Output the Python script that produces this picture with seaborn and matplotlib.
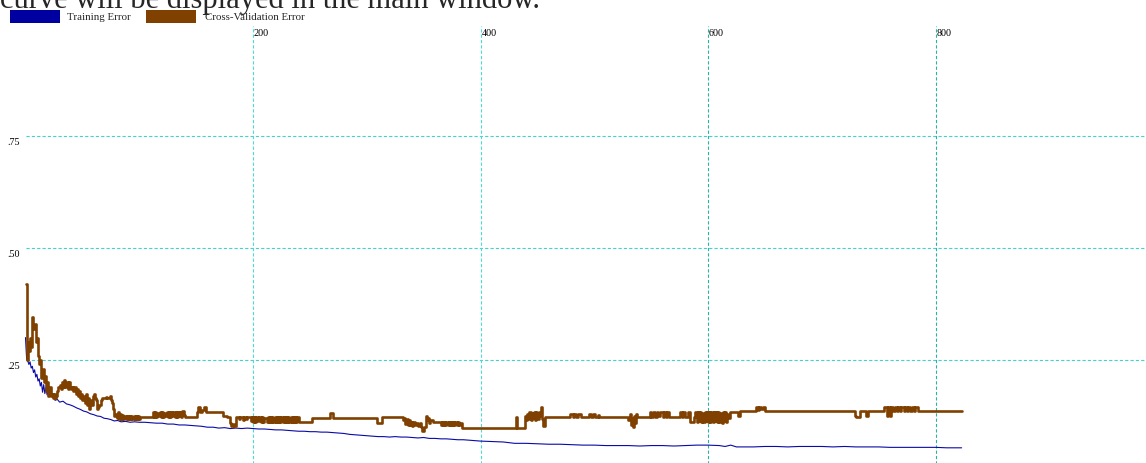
import matplotlib
matplotlib.use("Agg")
import matplotlib.pyplot as plt
from matplotlib.patches import Rectangle
import pandas as pd
import seaborn as sns

# ---- data ----
train_points = [
    (0, 0.300), (1, 0.252), (2, 0.248), (3, 0.240), (4, 0.246), (5, 0.232), (6, 0.236),
    (7, 0.222), (8, 0.228), (9, 0.212), (10, 0.218), (11, 0.203), (12, 0.208), (13, 0.192),
    (14, 0.200), (15, 0.178), (16, 0.195), (17, 0.175), (18, 0.188), (19, 0.172), (20, 0.180),
    (22, 0.168), (24, 0.170), (26, 0.160), (28, 0.162), (30, 0.156), (33, 0.158), (36, 0.152),
    (39, 0.150), (42, 0.147), (45, 0.143), (48, 0.140), (51, 0.136), (54, 0.134), (57, 0.130),
    (60, 0.128), (63, 0.125), (66, 0.124), (69, 0.120), (72, 0.119), (75, 0.117), (78, 0.114),
    (81, 0.115), (84, 0.112), (88, 0.113), (92, 0.111), (96, 0.112), (100, 0.111), (105, 0.111),
    (110, 0.110), (115, 0.109), (120, 0.109), (125, 0.107), (130, 0.107), (135, 0.105),
    (140, 0.105), (145, 0.104), (150, 0.103), (155, 0.102), (160, 0.100), (165, 0.100),
    (170, 0.098), (175, 0.099), (180, 0.097), (185, 0.098), (190, 0.097), (195, 0.098),
    (200, 0.097), (205, 0.096), (210, 0.096), (215, 0.095), (220, 0.094), (225, 0.094),
    (230, 0.093), (235, 0.092), (240, 0.091), (245, 0.091), (250, 0.090), (255, 0.090),
    (260, 0.089), (265, 0.089), (270, 0.088), (275, 0.087), (280, 0.086), (285, 0.084),
    (290, 0.083), (295, 0.082), (300, 0.081), (305, 0.080), (310, 0.079), (315, 0.079),
    (320, 0.078), (325, 0.079), (330, 0.078), (335, 0.078), (340, 0.077), (345, 0.076),
    (350, 0.077), (355, 0.075), (360, 0.075), (365, 0.074), (370, 0.074), (375, 0.073),
    (380, 0.072), (385, 0.072), (390, 0.071), (395, 0.070), (400, 0.069), (410, 0.068),
    (420, 0.067), (430, 0.064), (440, 0.064), (450, 0.063), (460, 0.062), (470, 0.062),
    (480, 0.061), (490, 0.060), (500, 0.060), (510, 0.059), (520, 0.059), (530, 0.059),
    (540, 0.058), (550, 0.059), (560, 0.059), (570, 0.058), (580, 0.059), (590, 0.060),
    (600, 0.060), (610, 0.059), (615, 0.057), (620, 0.060), (625, 0.056), (640, 0.056),
    (650, 0.057), (660, 0.057), (670, 0.056), (680, 0.057), (690, 0.057), (700, 0.057),
    (710, 0.056), (720, 0.057), (730, 0.056), (740, 0.056), (750, 0.056), (760, 0.055),
    (770, 0.055), (780, 0.055), (790, 0.055), (800, 0.055), (810, 0.054), (823, 0.054),
]

# cross-validation error, (epoch, value) steps
cv_part1 = [
    (0, 0.420), (1, 0.250), (2, 0.290), (3, 0.270), (4, 0.300), (5, 0.280), (6, 0.345),
    (7, 0.320), (8, 0.330), (9, 0.290), (10, 0.300), (11, 0.260), (12, 0.240), (13, 0.250),
    (14, 0.210), (15, 0.230), (16, 0.200), (17, 0.215), (18, 0.180), (19, 0.200), (20, 0.170),
    (21, 0.190), (22, 0.170), (23, 0.175), (24, 0.165), (25, 0.175), (26, 0.165), (27, 0.170),
    (28, 0.180), (29, 0.190), (30, 0.195), (31, 0.185), (32, 0.200), (33, 0.190), (34, 0.205),
    (35, 0.190), (36, 0.200), (37, 0.185), (38, 0.200), (39, 0.190), (40, 0.185), (41, 0.190),
    (42, 0.180), (43, 0.190), (44, 0.175), (45, 0.185), (46, 0.170), (47, 0.180), (48, 0.165),
    (49, 0.175), (50, 0.160), (51, 0.170), (52, 0.155), (53, 0.175), (54, 0.150), (55, 0.165),
    (56, 0.140), (57, 0.160), (58, 0.150), (59, 0.170), (60, 0.175), (61, 0.165), (62, 0.160),
    (63, 0.140), (64, 0.145), (65, 0.150), (66, 0.160), (67, 0.165), (71, 0.168), (72, 0.165),
    (74, 0.170), (75, 0.160), (76, 0.155), (77, 0.140), (78, 0.125), (79, 0.130), (80, 0.120),
    (81, 0.135), (82, 0.118), (83, 0.130), (84, 0.118), (85, 0.128), (86, 0.118), (87, 0.125),
    (88, 0.118), (89, 0.125), (90, 0.118), (91, 0.125), (92, 0.118), (93, 0.125), (94, 0.118),
    (95, 0.125), (96, 0.118), (97, 0.125), (98, 0.118), (99, 0.125), (100, 0.118),
]
cv_part2 = [
    (101, 0.123), (112, 0.133), (113, 0.123), (114, 0.133), (115, 0.123), (116, 0.132),
    (117, 0.125), (118, 0.133), (119, 0.123), (120, 0.133), (121, 0.123), (122, 0.131),
    (123, 0.125), (124, 0.133), (125, 0.123), (126, 0.133), (127, 0.123), (128, 0.134),
    (129, 0.125), (130, 0.133), (131, 0.123), (132, 0.135), (133, 0.123), (134, 0.133),
    (135, 0.125), (136, 0.133), (137, 0.123), (138, 0.136), (139, 0.128), (140, 0.123),
    (151, 0.134), (152, 0.145), (153, 0.134), (155, 0.139), (157, 0.145), (159, 0.134),
    (174, 0.125), (177, 0.123), (180, 0.110), (181, 0.103), (182, 0.108), (183, 0.103),
    (185, 0.123), (188, 0.118), (189, 0.123), (191, 0.116), (192, 0.123), (194, 0.118),
    (195, 0.123), (198, 0.114), (199, 0.123), (200, 0.112), (201, 0.123), (202, 0.112),
    (203, 0.123), (204, 0.114), (205, 0.123), (207, 0.112), (208, 0.123), (209, 0.112),
    (210, 0.121), (212, 0.112), (213, 0.123), (214, 0.112), (215, 0.123), (216, 0.112),
    (217, 0.123), (218, 0.112), (219, 0.123), (220, 0.112), (221, 0.123), (222, 0.112),
    (223, 0.123), (224, 0.112), (225, 0.123), (226, 0.112), (227, 0.123), (228, 0.112),
    (229, 0.123), (230, 0.112), (231, 0.123), (232, 0.112), (233, 0.123), (234, 0.112),
    (235, 0.123), (236, 0.112), (237, 0.123), (238, 0.112), (239, 0.123), (240, 0.112),
]
cv_part3 = [
    (252, 0.120), (268, 0.131), (270, 0.120), (309, 0.109), (313, 0.123), (332, 0.116),
    (333, 0.120), (334, 0.108), (335, 0.118), (336, 0.106), (337, 0.116), (338, 0.104),
    (339, 0.112), (340, 0.103), (341, 0.112), (342, 0.104), (343, 0.110), (345, 0.103),
    (347, 0.110), (348, 0.100), (349, 0.092), (350, 0.100), (352, 0.125), (353, 0.116),
    (354, 0.120), (355, 0.110), (356, 0.116), (358, 0.112), (365, 0.105), (366, 0.112),
    (367, 0.104), (368, 0.112), (369, 0.104), (370, 0.112), (371, 0.104), (372, 0.112),
    (373, 0.105), (374, 0.112), (375, 0.104), (376, 0.112), (377, 0.104), (378, 0.112),
    (379, 0.104), (380, 0.112), (381, 0.104), (382, 0.110), (384, 0.098), (431, 0.123),
    (432, 0.098), (439, 0.125), (440, 0.116), (441, 0.130), (442, 0.118), (443, 0.134),
    (444, 0.116), (445, 0.132), (446, 0.120), (447, 0.134), (448, 0.115), (449, 0.133),
    (450, 0.118), (451, 0.134), (452, 0.125), (453, 0.145), (454, 0.118), (455, 0.103),
]
cv_part4 = [
    (457, 0.123), (479, 0.130), (481, 0.123), (482, 0.130), (484, 0.123), (486, 0.130),
    (488, 0.123), (495, 0.130), (497, 0.123), (499, 0.130), (501, 0.123), (503, 0.128),
    (504, 0.123), (530, 0.116), (531, 0.130), (532, 0.104), (533, 0.120), (534, 0.100),
    (535, 0.125), (536, 0.110), (537, 0.130), (538, 0.123), (549, 0.134), (550, 0.123),
    (552, 0.134), (553, 0.123), (555, 0.134), (556, 0.125), (558, 0.134), (560, 0.123),
    (561, 0.134), (563, 0.123), (564, 0.133), (566, 0.123), (575, 0.134), (577, 0.123),
    (578, 0.134), (580, 0.123), (582, 0.134), (584, 0.112), (588, 0.123), (589, 0.134),
    (590, 0.112), (591, 0.134), (592, 0.114), (593, 0.134), (594, 0.112), (595, 0.132),
    (596, 0.112), (597, 0.134), (598, 0.114), (599, 0.134), (600, 0.112), (601, 0.134),
    (602, 0.112), (603, 0.133), (604, 0.112), (605, 0.134), (606, 0.114), (607, 0.134),
    (608, 0.112), (609, 0.134), (610, 0.112), (611, 0.132), (612, 0.110), (613, 0.134),
    (614, 0.114), (615, 0.134), (616, 0.112), (617, 0.130), (618, 0.120), (619, 0.134),
    (626, 0.125), (628, 0.136), (642, 0.145), (644, 0.138), (645, 0.145), (647, 0.140),
    (648, 0.145), (650, 0.136), (729, 0.125), (730, 0.123), (734, 0.136), (739, 0.125),
    (741, 0.136), (755, 0.145), (757, 0.125), (758, 0.145), (760, 0.125), (761, 0.145),
    (763, 0.137), (764, 0.145), (766, 0.137), (767, 0.145), (769, 0.137), (770, 0.145),
    (772, 0.137), (773, 0.145), (775, 0.137), (776, 0.145), (778, 0.137), (779, 0.145),
    (781, 0.137), (782, 0.145), (785, 0.136), (823, 0.136),
]

x_ticks = [200, 400, 600, 800]
y_ticks = [0.25, 0.50, 0.75]
y_tick_labels = [".25", ".50", ".75"]
legend_labels = ["Training Error", "Cross-Validation Error"]
page_text = "curve will be displayed in the main window."

# ---- styling ----
TRAIN_COLOR = "#0a0aa8"
CV_COLOR = "#804000"
sns.set_style("white")
plt.rcParams['font.family'] = ['Liberation Serif', 'DejaVu Serif']

W, H = 1146, 464
fig = plt.figure(figsize=(W / 100, H / 100), dpi=100)
ax = fig.add_axes([0, 0, 1, 1])

# pixel -> data mapping
x0_px, px_per_epoch = 25.5, 1.1375
y0_px, px_per_unit = 473.0, 448.0
ax.set_xlim(-x0_px / px_per_epoch, (W - x0_px) / px_per_epoch)
ax.set_ylim((y0_px - H) / px_per_unit, y0_px / px_per_unit)
xmax = (W - x0_px) / px_per_epoch

# grid
dash = (0, (2.9, 1.9))
ax.hlines(y_ticks, 0, xmax, colors="#45d2c8", linestyles=[dash], lw=0.8, zorder=1)
v_colors = ["#4edad0", "#4edad0", "#2ab3a3", "#2ab3a3"]
for xt, c in zip(x_ticks, v_colors):
    ax.vlines(xt, 0, 0.996, colors=c, linestyles=[dash], lw=0.8, zorder=1)
    ax.text(xt + 0.8, 0.982, str(xt), fontsize=7.3, ha="left", va="center", color="black")
for yt, lab in zip(y_ticks, y_tick_labels):
    ax.text(-16.3, yt - 0.013, lab, fontsize=7.3, ha="left", va="center", color="black")

# curves
df_train = pd.DataFrame(train_points, columns=["epoch", "error"])
df_cv = pd.DataFrame(cv_part1 + cv_part2 + cv_part3 + cv_part4, columns=["epoch", "error"])
sns.lineplot(data=df_train, x="epoch", y="error", color=TRAIN_COLOR, lw=0.8,
             estimator=None, ax=ax, zorder=3)
sns.lineplot(data=df_cv, x="epoch", y="error", color=CV_COLOR, lw=1.9,
             drawstyle="steps-post", estimator=None, ax=ax, zorder=4)
ax.set_axis_off()

# legend drawn in pixel positions
for (rx, tx), col, lab in zip([(10, 67), (146, 205)], ["#0000a0", CV_COLOR], legend_labels):
    fig.add_artist(Rectangle((rx / W, (H - 24) / H), 50 / W, 13 / H,
                             transform=fig.transFigure, facecolor=col, edgecolor="none"))
    fig.text(tx / W, (H - 18) / H, lab, fontsize=7.8, ha="left", va="center")

# clipped page text at the very top
fig.text(0.0, 1 - 8 / H, page_text, fontsize=22, ha="left", va="baseline")

fig.savefig("out.png", dpi=100)
